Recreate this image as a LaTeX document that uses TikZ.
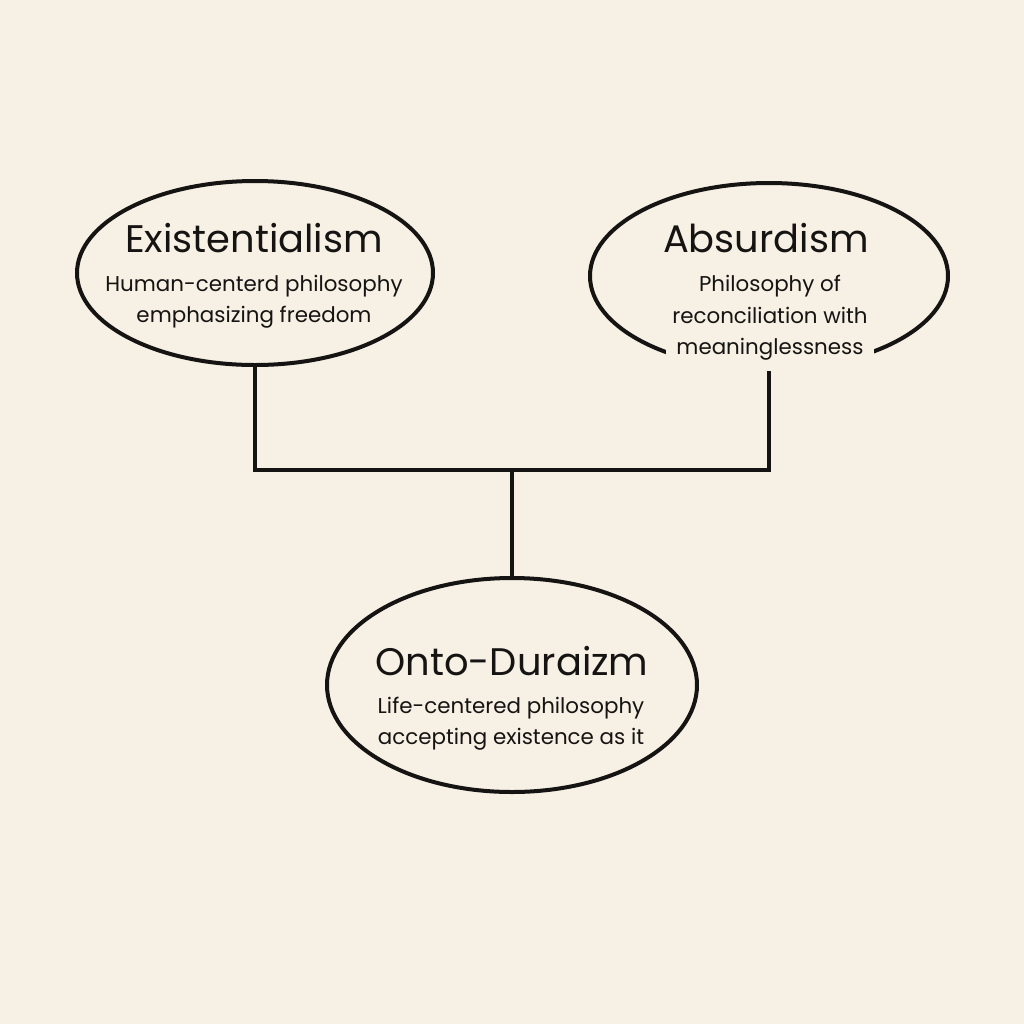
\documentclass[tikz,border=0pt]{standalone}
\usepackage{fontspec}
\setmainfont{Poppins}
\usetikzlibrary{shapes.geometric}
\definecolor{paper}{RGB}{247,240,228}
\definecolor{ink}{RGB}{22,20,18}

\begin{document}
\begin{tikzpicture}[x=0.5pt, y=-0.5pt,
    bubble/.style = {shape=ellipse, draw=ink, line width=2pt, inner sep=0pt},
    heading/.style = {text=ink, font=\fontsize{19.2}{22}\selectfont},
    blurb/.style = {text=ink, align=center, inner sep=0pt,
      font=\fontsize{10.7}{15.7}\selectfont}]
    \useasboundingbox[fill=paper] (0,0) rectangle (1024,1024);
    \node[bubble, minimum width=178pt, minimum height=92pt] (exi) at (255,273) {};
    \node[bubble, minimum width=179pt, minimum height=93pt] (abs) at (769,276) {};
    \node[bubble, minimum width=185pt, minimum height=107pt] (onto) at (512,685) {};
    \node[heading] (exititle) at (254,238) {Existentialism};
    \node[blurb] (exitext) at (254,302) {Human-centerd philosophy\\emphasizing freedom};
    \node[heading] (abstitle) at (766,238) {Absurdism};
    \node[blurb, fill=paper, inner xsep=3pt, inner ysep=8pt] (abstext) at (770,318)
      {Philosophy of\\reconciliation with\\meaninglessness};
    \node[heading] (ontotitle) at (512,661) {Onto-Duraizm};
    \node[blurb] (ontotext) at (511,724) {Life-centered philosophy\\accepting existence as it};
    \coordinate (join) at (512,470);
    \draw[ink, line width=2pt] (exi.south) |- (join) -| (abs.south);
    \draw[ink, line width=2pt] (join) -- (onto.north);
\end{tikzpicture}
\end{document}
